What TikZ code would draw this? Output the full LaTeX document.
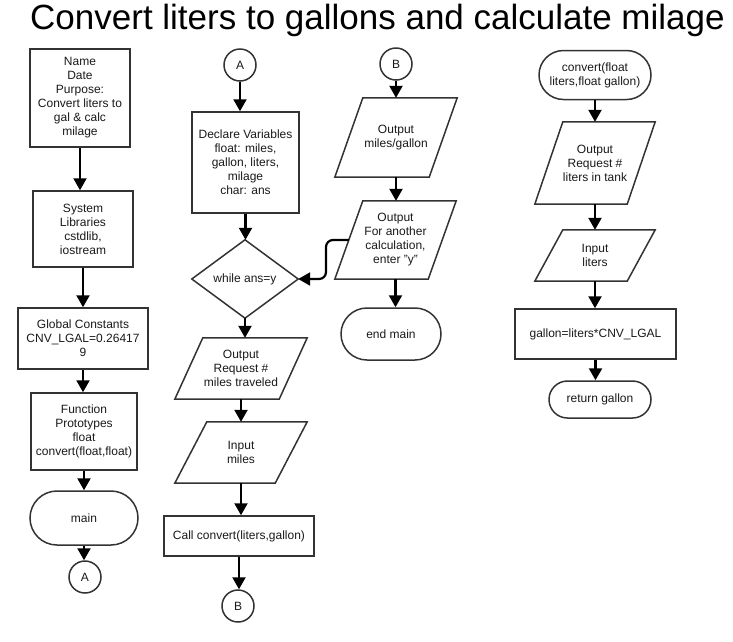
\documentclass[tikz,border=0pt]{standalone}
\usepackage{fontspec}
\setmainfont{Liberation Sans}
\usetikzlibrary{arrows.meta,calc}
\newcommand\nodefont{\fontsize{12}{14}\selectfont}
\newcommand\iopath[2]{\draw[shapeline] ([xshift=#2]#1.north west) -- (#1.north east) -- ([xshift=-#2]#1.south east) -- (#1.south west) -- cycle;}
\begin{document}
\begin{tikzpicture}[x=1pt,y=-1pt,
  shapeline/.style={draw=black!80, line width=1.5pt},
  proc/.style={shapeline, rectangle, align=center, font=\nodefont, text=black!90, inner sep=2pt},
  term/.style={shapeline, rectangle, align=center, font=\nodefont, text=black!90, inner sep=2pt},
  conn/.style={shapeline, circle, minimum size=32pt, inner sep=0pt, font=\nodefont, text=black!90},
  io/.style={rectangle, align=center, font=\nodefont, text=black!90, inner sep=0pt},
  arr/.style={draw=black, line width=2.2pt, -{Triangle[width=13pt,length=12pt]}}
]
\useasboundingbox (0,0) rectangle (733,641);

\node[anchor=base west, font=\fontsize{35}{40}\selectfont, inner sep=0pt] (title) at (30,29) {Convert liters to gallons and calculate milage};

% column 1
\node[proc, minimum width=100pt, minimum height=98pt] (name) at (80,98) {Name\\Date\\Purpose:\\Convert liters to\\gal \& calc\\milage};
\node[proc, minimum width=100pt, minimum height=76pt] (sys) at (83,229) {System\\Libraries\\cstdlib,\\iostream};
\node[proc, minimum width=130pt, minimum height=61pt] (glob) at (83,338.5) {Global Constants\\CNV\_LGAL=0.26417\\9};
\node[proc, minimum width=106pt, minimum height=77pt] (func) at (84,431.5) {Function\\Prototypes\\float\\convert(float,float)};
\node[term, minimum width=108pt, minimum height=54pt, rounded corners=27pt] (main) at (84,518) {main};
\node[conn] (A1) at (85,577) {A};

% column 2
\node[conn] (A2) at (240,65) {A};
\node[proc, minimum width=107pt, minimum height=101pt] (decl) at (245.5,162.5) {Declare Variables\\float: miles,\\gallon, liters,\\milage\\char: ans};
\node[io, minimum width=106pt, minimum height=78pt] (dia) at (245,279) {while ans=y};
\draw[shapeline] (dia.north) -- (dia.east) -- (dia.south) -- (dia.west) -- cycle;
\node[io, minimum width=132pt, minimum height=61pt] (oreq) at (241,368.5) {Output\\Request \#\\miles traveled};
\iopath{oreq}{28pt}
\node[io, minimum width=132pt, minimum height=61pt] (imiles) at (241,452.5) {Input\\miles};
\iopath{imiles}{32pt}
\node[proc, minimum width=150pt, minimum height=40pt] (call) at (239,536) {Call convert(liters,gallon)};
\node[conn] (B1) at (238,606) {B};

% column 3
\node[conn] (B2) at (396,64) {B};
\node[io, minimum width=122pt, minimum height=79pt] (ompg) at (396,137.5) {Output\\miles/gallon};
\iopath{ompg}{28pt}
\node[io, minimum width=121pt, minimum height=78pt] (oan) at (395.5,240) {Output\\For another\\calculation,\\enter "y"};
\iopath{oan}{28pt}
\node[term, minimum width=100pt, minimum height=52pt, rounded corners=26pt] (endm) at (391,334) {end main};

% column 4
\node[term, minimum width=112pt, minimum height=49pt, rounded corners=24.5pt] (conv) at (595,75) {convert(float\\liters,float gallon)};
\node[io, minimum width=120pt, minimum height=82pt] (oliters) at (595,163) {Output\\Request \#\\liters in tank};
\iopath{oliters}{28pt}
\node[io, minimum width=120pt, minimum height=51pt] (iliters) at (595,255.5) {Input\\liters};
\iopath{iliters}{28pt}
\node[proc, minimum width=161pt, minimum height=50pt] (gal) at (595.5,334) {gallon=liters*CNV\_LGAL};
\node[term, minimum width=102pt, minimum height=37pt, rounded corners=18.5pt] (ret) at (600,399.5) {return gallon};

% connectors column 1
\draw[arr] (name.south) -- (name.south |- sys.north);
\draw[arr] (sys.south) -- (sys.south |- glob.north);
\draw[arr] (glob.south) -- (glob.south |- func.north);
\draw[arr] (func.south) -- (func.south |- main.north);
\draw[arr] (main.south) -- (main.south |- A1.north);

% column 2
\draw[arr] (A2.south) -- (A2.south |- decl.north);
\draw[arr] (decl.south) -- (decl.south |- dia.north);
\draw[arr] (dia.south) -- (dia.south |- oreq.north);
\draw[arr] (oreq.south) -- (oreq.south |- imiles.north);
\draw[arr] (imiles.south) -- (imiles.south |- call.north);
\draw[arr] (call.south) -- (call.south |- B1.north);

% column 3
\draw[arr] (B2.south) -- (B2.south |- ompg.north);
\draw[arr] (ompg.south) -- (ompg.south |- oan.north);
\draw[arr] (oan.south) -- (oan.south |- endm.north);
\coordinate (oanw) at ([xshift=14pt]oan.west);
\coordinate (lp) at (326,240);
\draw[arr, rounded corners=7pt] (oanw) -- (lp) -- (lp |- dia.east) -- (dia.east);

% column 4
\draw[arr] (conv.south) -- (conv.south |- oliters.north);
\draw[arr] (oliters.south) -- (oliters.south |- iliters.north);
\draw[arr] (iliters.south) -- (iliters.south |- gal.north);
\draw[arr] (gal.south) -- (gal.south |- ret.north);
\end{tikzpicture}
\end{document}
